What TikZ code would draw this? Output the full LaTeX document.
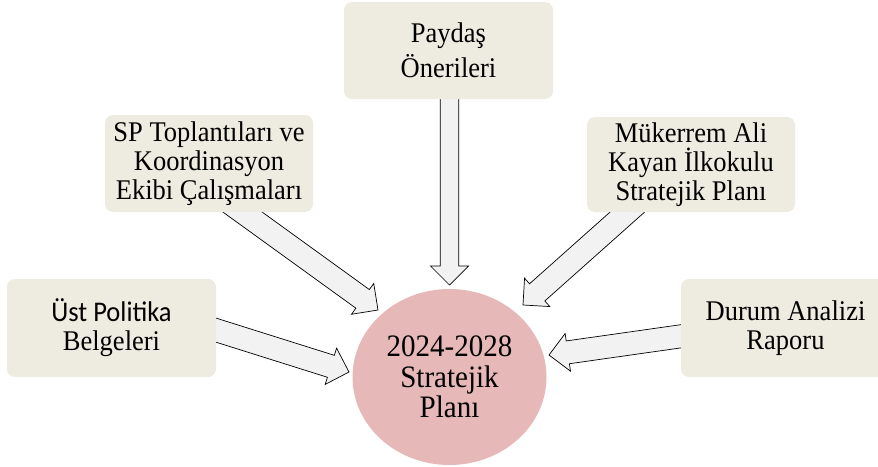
\documentclass[tikz,border=0pt]{standalone}
\usepackage{fontspec}
\setmainfont{Liberation Serif}[FakeStretch=0.93]
\newfontfamily\carl{Carlito}[FakeStretch=0.93]
\usetikzlibrary{calc,shapes.geometric,backgrounds}
\definecolor{boxfill}{HTML}{EEECE1}
\definecolor{circfill}{HTML}{E6B9B8}
\definecolor{arrfill}{HTML}{F2F2F2}
\tikzset{
  srcbox/.style={draw=none, fill=boxfill, rounded corners=8pt, minimum width=209pt,
    minimum height=97pt, inner sep=0pt, align=center,
    font=\fontsize{28.5}{29}\selectfont},
  goal/.style={ellipse, draw=none, fill=circfill, minimum width=194pt, minimum height=176pt,
    inner sep=0pt, align=center, font=\fontsize{31.2}{30.5}\selectfont},
  blockarr/.style={draw=black, line width=0.7pt, fill=arrfill, line join=miter}
}
% #1 half shaft width, #2 tail, #3 tip
\newcommand\barrow[3][11.5pt]{%
  \coordinate (n#2#3) at ($(#3)!19pt!(#2)$);
  \draw[blockarr] ($(#2)!#1!90:(#3)$) -- ($(n#2#3)!#1!-90:(#2)$)
    -- ($(n#2#3)!19pt!-90:(#2)$) -- (#3) -- ($(n#2#3)!19pt!90:(#2)$)
    -- ($(n#2#3)!#1!90:(#2)$) -- ($(#2)!#1!-90:(#3)$) -- cycle;
}
\begin{document}
\begin{tikzpicture}[x=1pt,y=-1pt]
\useasboundingbox (0,0) rectangle (878,466);
\clip (0,0) rectangle (878,466);
\node[srcbox, font=\fontsize{28.5}{35}\selectfont] (pay) at (448.5,50.5) {Paydaş\\Önerileri};
\node[srcbox, minimum width=208pt] (sp) at (209,163.5) {SP Toplantıları ve\\Koordinasyon\\Ekibi Çalışmaları};
\node[srcbox, minimum width=208pt, minimum height=95pt] (muk) at (691,164.5) {Mükerrem Ali\\Kayan İlkokulu\\Stratejik Planı};
\node[srcbox, minimum height=98pt] (ust) at (111.5,328) {{\carl Üst Politika}\\Belgeleri};
\node[srcbox, minimum height=98pt] (dur) at (785.5,328) {Durum Analizi\\Raporu};
\node[goal] (plan) at (449.5,377) {2024-2028\\Stratejik\\Planı};
\coordinate (ta) at (449.5,70);  \coordinate (pa) at (449.5,285);
\coordinate (tb) at (221,196.5); \coordinate (pb) at (378,310);
\coordinate (tc) at (646.5,195); \coordinate (pc) at (523,305);
\coordinate (td) at (187,321);   \coordinate (pd) at (349,372);
\coordinate (te) at (711,332);   \coordinate (pe) at (549,355);
\begin{pgfonlayer}{background}
\barrow[9.3pt]{ta}{pa}
\barrow{tb}{pb}
\barrow{tc}{pc}
\barrow{td}{pd}
\barrow{te}{pe}
\end{pgfonlayer}
\end{tikzpicture}
\end{document}
